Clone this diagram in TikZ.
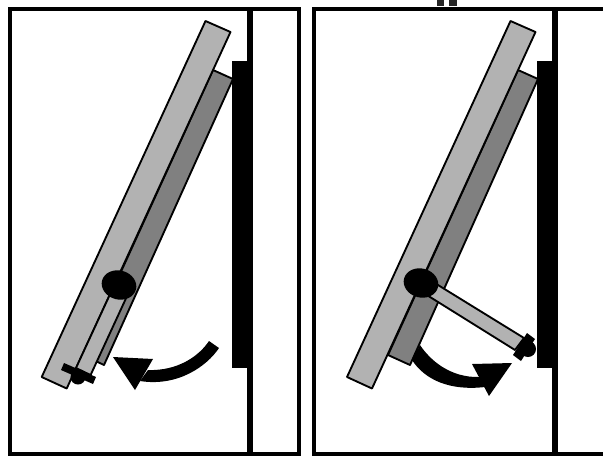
\documentclass[tikz,border=0pt]{standalone}
\begin{document}
\begin{tikzpicture}[x=0.75pt,y=-0.75pt,
  frameline/.style={draw=black,line width=3pt},
  board/.style={draw=black,line width=1.4pt,line join=round},
  lightboard/.style={board,fill=black!30},
  darkboard/.style={board,fill=black!50},
  solidpart/.style={fill=black,draw=none}]
\useasboundingbox (0,0) rectangle (603,455);
% stray top marks
\fill[black!85] (437,0) rectangle (444,6);
\fill[black!85] (449,0) rectangle (457,6);
% left panel
\draw[frameline] (10,9) rectangle (299,453.5);
\draw[line width=4pt] (250,9) -- (250,453.5);
\fill[solidpart] (232,61) rectangle (252,368);
\draw[darkboard] (213,70) -- (233,79) -- (104,365) -- (83,355) -- cycle;
\draw[lightboard] (205.5,21) -- (230.5,32) -- (66.7,388.5) -- (41.7,377) -- cycle;
\draw[lightboard] (112,290) -- (126.6,297) -- (90.6,375) -- (76,368) -- cycle;
\fill[solidpart,rotate around={-15:(119,285)}] (119,285) ellipse [x radius=17.5, y radius=14.5];
\fill[solidpart] (78,377) circle [radius=7.5];
\fill[solidpart] (64,363) -- (96,377) -- (93,384) -- (61,370) -- cycle;
\fill[solidpart] (209,341) .. controls (199,356) and (178,371) .. (148,370) -- (140,381) .. controls (178,387) and (207,366) .. (219,348) -- cycle;
\fill[solidpart] (113,357) -- (153,359) -- (135,390) -- cycle;
% right panel
\draw[frameline] (314,9) rectangle (606,453.5);
\draw[line width=4pt] (555,9) -- (555,453.5);
\fill[solidpart] (537,61) rectangle (557,368);
\draw[darkboard] (518,70) -- (538,79) -- (410,365) -- (388,355) -- cycle;
\draw[lightboard] (510.5,21) -- (535.5,32) -- (372,388.5) -- (347,377) -- cycle;
\draw[lightboard] (425,277) -- (524,338) -- (515,350) -- (422,292) -- cycle;
\fill[solidpart,rotate around={-15:(421,283)}] (421,283) ellipse [x radius=17.5, y radius=14.5];
\fill[solidpart] (528,349) circle [radius=8];
\fill[solidpart] (527,333) -- (535,339) -- (521,361) -- (513,355) -- cycle;
\fill[solidpart] (420,345) .. controls (430,360) and (450,378) .. (480,377) -- (485,387) .. controls (450,391) and (425,380) .. (412,360) -- cycle;
\fill[solidpart] (472,364) -- (512,363) -- (489,396) -- cycle;
\end{tikzpicture}
\end{document}
